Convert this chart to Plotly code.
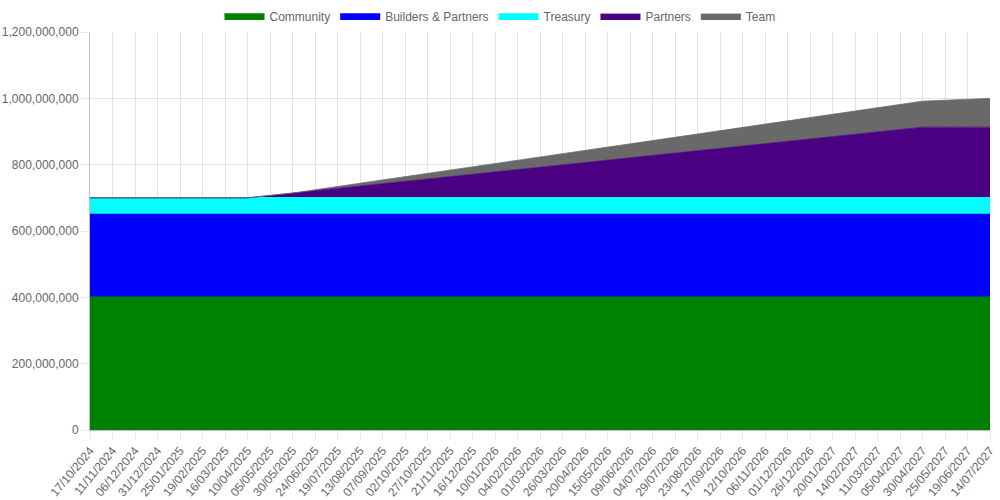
import plotly.graph_objects as go

# Release schedule, sampled every 25 days
dates = [
    "17/10/2024", "11/11/2024", "06/12/2024", "31/12/2024", "25/01/2025",
    "19/02/2025", "16/03/2025", "10/04/2025", "05/05/2025", "30/05/2025",
    "24/06/2025", "19/07/2025", "13/08/2025", "07/09/2025", "02/10/2025",
    "27/10/2025", "21/11/2025", "16/12/2025", "10/01/2026", "04/02/2026",
    "01/03/2026", "26/03/2026", "20/04/2026", "15/05/2026", "09/06/2026",
    "04/07/2026", "29/07/2026", "23/08/2026", "17/09/2026", "12/10/2026",
    "06/11/2026", "01/12/2026", "26/12/2026", "20/01/2027", "14/02/2027",
    "11/03/2027", "05/04/2027", "30/04/2027", "25/05/2027", "19/06/2027",
    "14/07/2027",
]

community = [400_000_000] * 41
builders_partners = [250_000_000] * 41
treasury = [50_000_000] * 41

# millions
partners_m = [
    0, 0, 0, 0, 0, 0, 0, 0, 7.1, 14.2,
    21.3, 28.4, 35.5, 42.6, 49.7, 56.8, 63.9, 71.0, 78.1, 85.2,
    92.3, 99.4, 106.5, 113.6, 120.7, 127.8, 134.9, 142.0, 149.1, 156.2,
    163.3, 170.4, 177.5, 184.6, 191.7, 198.8, 205.9, 213.0, 213.0, 213.0,
    213.0,
]
team_m = [
    0, 0, 0, 0, 0, 0, 0, 0, 0, 0,
    2.8, 5.6, 8.4, 11.2, 14.0, 16.8, 19.6, 22.4, 25.2, 28.0,
    30.8, 33.6, 36.4, 39.2, 42.0, 44.8, 47.6, 50.4, 53.2, 56.0,
    58.8, 61.6, 64.4, 67.2, 70.0, 72.8, 75.6, 78.4, 81.2, 84.0,
    86.8,
]
partners = [v * 1e6 for v in partners_m]
team = [v * 1e6 for v in team_m]

series = [
    ("Community", community, "#008000", 1.5),
    ("Builders & Partners", builders_partners, "#0000FF", 1.5),
    ("Treasury", treasury, "#00FFFF", 1.5),
    ("Partners", partners, "#4B0082", 0.8),
    ("Team", team, "#696969", 0.8),
]

fig = go.Figure()
for name, vals, color, lw in series:
    fig.add_trace(go.Scatter(
        x=dates,
        y=vals,
        name=name,
        mode="lines",
        stackgroup="one",
        line=dict(color=color, width=lw),
        fillcolor=color,
        hovertemplate="%{y:,}<extra>" + name + "</extra>",
    ))

grid = "rgba(0,0,0,0.1)"
fig.update_layout(
    width=1000,
    height=500,
    margin=dict(l=90, r=10, t=32, b=70),
    plot_bgcolor="white",
    paper_bgcolor="white",
    font=dict(family="Liberation Sans, Arial, sans-serif", size=12, color="#666"),
    legend=dict(
        orientation="h",
        x=0.5, xanchor="center", xref="container",
        y=0.968, yanchor="middle", yref="container",
        traceorder="normal",
        font=dict(size=12, color="#666"),
        itemwidth=40,
    ),
    xaxis=dict(
        type="category",
        range=[0, 40],
        tickangle=-50,
        showgrid=True,
        gridcolor=grid,
        ticks="outside",
        ticklen=8,
        tickcolor=grid,
        showline=True,
        linecolor="rgba(0,0,0,0.25)",
        tickfont=dict(size=12, color="#666"),
        automargin=False,
    ),
    yaxis=dict(
        range=[0, 1_200_000_000],
        dtick=200_000_000,
        tickformat=",d",
        showgrid=True,
        gridcolor=grid,
        ticks="outside",
        ticklen=8,
        tickcolor=grid,
        showline=True,
        linecolor="rgba(0,0,0,0.25)",
        zeroline=False,
        tickfont=dict(size=12, color="#666"),
        automargin=False,
    ),
)

# drop the default body margin so the figure sits at the page corner
fig.write_html(
    "out.html",
    config={"displayModeBar": False},
    post_script="document.body.style.margin = '0';",
)
